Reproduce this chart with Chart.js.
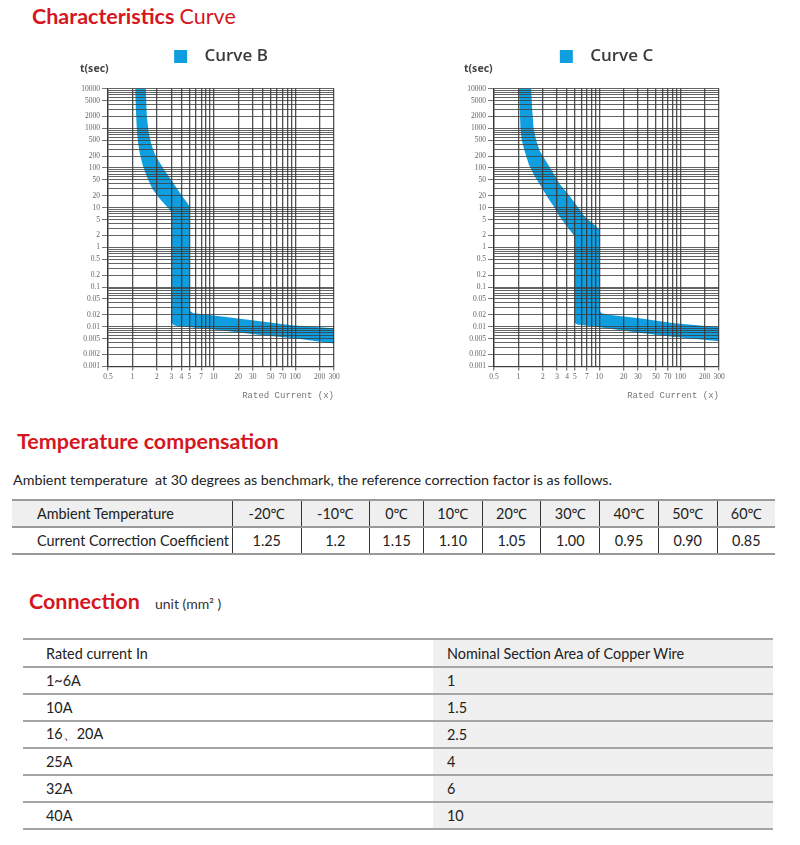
<!DOCTYPE html>
<html>
<head>
<meta charset="utf-8">
<script src="https://cdn.jsdelivr.net/npm/chart.js@4.4.0/dist/chart.umd.min.js"></script>
<style>
  body { margin: 0; background: #fff; font-family: Lato, "Noto Sans", sans-serif; color: #222; }
  #page { position: relative; width: 800px; height: 845px; overflow: hidden; }
  .head { position: absolute; white-space: nowrap; color: #d6161e; font-weight: bold; font-size: 21.5px; line-height: 26px; }
  .head span { font-weight: normal; }
  .note { position: absolute; white-space: nowrap; font-size: 14.3px; line-height: 18px; color: #222; }
  canvas { position: absolute; }
  table { position: absolute; border-collapse: collapse; font-size: 14.4px; color: #222; }
  #temp { left: 12px; top: 499px; width: 763px; border-top: 2px solid #9a9a9a; border-bottom: 2px solid #9a9a9a; }
  #temp td { height: 25px; padding: 0; text-align: center; border-left: 1px solid #333; }
  #temp td.first { text-align: left; padding-left: 25px; border-left: none; width: 195px; }
  #temp tr.hd { background: #efefef; }
  #temp tr.hd td { border-bottom: 2px solid #9a9a9a; }
  #conn { left: 23px; top: 638px; width: 750px; }
  #conn td { height: 25px; padding: 0; border-top: 2px solid #a5a5a5; }
  #conn tr:last-child td { border-bottom: 2px solid #a5a5a5; }
  #conn td.a { width: 387px; padding-left: 23px; }
  #conn td.b { padding-left: 14px; background: #f0f0f0; }
</style>
</head>
<body>
<div id="page">
  <div class="head" style="left:32px;top:3px;">Characteristics <span>Curve</span></div>

  <canvas id="chartB" width="300" height="380" style="left:60px;top:30px;"></canvas>
  <canvas id="chartC" width="300" height="380" style="left:444px;top:30px;"></canvas>

  <div class="head" style="left:17px;top:428px;">Temperature compensation</div>
  <div class="note" style="left:13px;top:471px;">Ambient temperature&nbsp; at 30 degrees as benchmark, the reference correction factor is as follows.</div>
  <table id="temp"></table>

  <div class="head" style="left:29px;top:588px;">Connection <span style="font-size:14px;color:#333;margin-left:10px;">unit (mm² )</span></div>
  <table id="conn"></table>
</div>

<script>
// tick labels and grid lines
const yLabelValues = [10000, 5000, 2000, 1000, 500, 200, 100, 50, 20, 10, 5, 2, 1, 0.5, 0.2, 0.1, 0.05, 0.02, 0.01, 0.005, 0.002, 0.001];
const xLabelValues = [0.5, 1, 2, 3, 4, 5, 7, 10, 20, 30, 50, 70, 100, 200, 300];
const xGridValues = [0.5, 1, 2, 3, 4, 5, 6, 7, 8, 9, 10, 20, 30, 40, 50, 60, 70, 80, 90, 100, 200, 300];

// Curve B: fast side (min) and slow side (max) of the trip band, {x: I/In, y: seconds}
const curveBMin = [
  {x: 1.08, y: 10000}, {x: 1.10, y: 3000}, {x: 1.13, y: 1000}, {x: 1.16, y: 500}, {x: 1.22, y: 250},
  {x: 1.33, y: 120}, {x: 1.5, y: 60}, {x: 1.75, y: 30}, {x: 2.1, y: 18}, {x: 2.5, y: 12},
  {x: 2.85, y: 9}, {x: 3.0, y: 7.5}, {x: 3.0, y: 0.015}, {x: 3.05, y: 0.0125}, {x: 3.2, y: 0.011},
  {x: 3.5, y: 0.0104}, {x: 10, y: 0.0085}, {x: 37, y: 0.0062}, {x: 96, y: 0.0051}, {x: 300, y: 0.0038}
];
const curveBMax = [
  {x: 1.46, y: 10000}, {x: 1.5, y: 2000}, {x: 1.58, y: 800}, {x: 1.7, y: 400}, {x: 1.89, y: 220},
  {x: 2.1, y: 150}, {x: 2.45, y: 90}, {x: 3.1, y: 45}, {x: 4.04, y: 20}, {x: 4.6, y: 14},
  {x: 5.0, y: 11}, {x: 5.0, y: 0.03}, {x: 5.1, y: 0.025}, {x: 5.6, y: 0.022}, {x: 10, y: 0.0193},
  {x: 37, y: 0.0137}, {x: 96, y: 0.0108}, {x: 300, y: 0.0092}
];

// Curve C
const curveCMin = [
  {x: 1.02, y: 10000}, {x: 1.04, y: 3000}, {x: 1.06, y: 1000}, {x: 1.1, y: 500}, {x: 1.19, y: 270},
  {x: 1.35, y: 120}, {x: 1.6, y: 60}, {x: 1.85, y: 38}, {x: 2.3, y: 18}, {x: 2.8, y: 10},
  {x: 3.22, y: 6}, {x: 4.0, y: 3.3}, {x: 4.6, y: 2.3}, {x: 4.93, y: 1.9}, {x: 4.93, y: 0.015},
  {x: 5.0, y: 0.0125}, {x: 5.3, y: 0.0113}, {x: 10, y: 0.0097}, {x: 31, y: 0.007}, {x: 80, y: 0.0056},
  {x: 300, y: 0.0043}
];
const curveCMax = [
  {x: 1.44, y: 10000}, {x: 1.48, y: 3000}, {x: 1.54, y: 1000}, {x: 1.66, y: 500}, {x: 1.83, y: 270},
  {x: 2.1, y: 170}, {x: 2.55, y: 90}, {x: 3.22, y: 40}, {x: 4.27, y: 20}, {x: 5.5, y: 10},
  {x: 6.55, y: 6}, {x: 8.5, y: 3.8}, {x: 10, y: 2.8}, {x: 10, y: 0.026}, {x: 10.6, y: 0.022},
  {x: 13, y: 0.02}, {x: 31, y: 0.0164}, {x: 80, y: 0.0124}, {x: 300, y: 0.0097}
];

// tables
const ambientTemps = ["-20℃", "-10℃", "0℃", "10℃", "20℃", "30℃", "40℃", "50℃", "60℃"];
const correctionCoeffs = ["1.25", "1.2", "1.15", "1.10", "1.05", "1.00", "0.95", "0.90", "0.85"];
const ratedCurrents = ["1~6A", "10A", "16、20A", "25A", "32A", "40A"];
const wireSections = ["1", "1.5", "2.5", "4", "6", "10"];

const BLUE = "#0f9fe0";
const GRID_X = "rgba(50,50,50,0.85)";
const GRID_Y = "rgba(60,60,60,0.8)";

function yGridValues() {
  const out = [];
  for (let d = -3; d <= 4; d++) {
    for (let k = 1; k < 10; k++) {
      const v = Number((k * Math.pow(10, d)).toPrecision(1));
      if (v >= 0.001 && v <= 10000) out.push(v);
    }
  }
  return out;
}

function makeChart(id, label, minPts, maxPts, yWidth, padRight) {
  const band = minPts.concat(maxPts.slice().reverse());
  return new Chart(document.getElementById(id), {
    type: "line",
    data: {
      datasets: [{
        label: label,
        data: band,
        fill: "shape",
        backgroundColor: BLUE,
        borderColor: BLUE,
        borderWidth: 0,
        pointRadius: 0,
        tension: 0
      }]
    },
    options: {
      responsive: false,
      animation: false,
      layout: { padding: { left: 20, right: padRight, top: 8, bottom: 8.6 } },
      plugins: {
        legend: {
          fullSize: false,
          labels: {
            boxWidth: 13, boxHeight: 13, padding: 10, color: "#3a3a3a",
            font: { family: "Open Sans", size: 17, weight: "600" },
            generateLabels: chart => Chart.defaults.plugins.legend.labels.generateLabels(chart)
              .map(item => Object.assign(item, { text: "  " + item.text }))
          }
        },
        // sits under the legend, pulled up a little so it lines up with the legend gap
        title: {
          display: true, text: "t(sec)", align: "start", weight: 500, color: "#444",
          font: { family: "Noto Sans", size: 10.5, weight: "bold" },
          padding: { top: -12, bottom: 13 }
        },
        tooltip: { enabled: false }
      },
      scales: {
        x: {
          type: "logarithmic", min: 0.5, max: 300,
          afterBuildTicks: s => { s.ticks = xGridValues.map(v => ({ value: v })); },
          ticks: {
            autoSkip: false, maxRotation: 0, padding: 2, color: "#666",
            font: { family: "Liberation Serif", size: 7.5 },
            callback: v => xLabelValues.includes(v) ? String(v) : ""
          },
          grid: {
            z: 1, color: GRID_X, lineWidth: 1.3, tickLength: 4,
            tickColor: c => xLabelValues.includes(c.tick.value) ? "#777" : "rgba(0,0,0,0)"
          },
          border: { z: 1, color: GRID_X, width: 1.3 },
          title: {
            display: true, text: "Rated Current (x)", align: "end", color: "#777",
            font: { family: "Liberation Mono", size: 9 },
            padding: { top: 7.2, bottom: 0 }
          }
        },
        y: {
          type: "logarithmic", min: 0.001, max: 10000,
          afterBuildTicks: s => { s.ticks = yGridValues().map(v => ({ value: v })); },
          afterFit: s => { s.width = yWidth; },
          ticks: {
            autoSkip: false, padding: 2, color: "#666",
            font: { family: "Liberation Serif", size: 7.5 },
            callback: v => yLabelValues.includes(v) ? String(v) : ""
          },
          grid: {
            z: 1, color: GRID_Y, lineWidth: 1, tickLength: 6,
            tickColor: c => yLabelValues.includes(c.tick.value) ? "#777" : "rgba(0,0,0,0)"
          },
          border: { z: 1, color: GRID_X, width: 1.3 }
        }
      }
    }
  });
}

function buildTables() {
  let html = '<tr class="hd"><td class="first">Ambient Temperature</td>';
  ambientTemps.forEach(t => { html += "<td>" + t + "</td>"; });
  html += '</tr><tr><td class="first">Current Correction Coefficient</td>';
  correctionCoeffs.forEach(c => { html += "<td>" + c + "</td>"; });
  html += "</tr>";
  document.getElementById("temp").innerHTML = html;

  let rows = '<tr><td class="a" style="height:26px">Rated current In</td><td class="b">Nominal Section Area of Copper Wire</td></tr>';
  ratedCurrents.forEach((r, i) => {
    rows += '<tr><td class="a">' + r + '</td><td class="b">' + wireSections[i] + "</td></tr>";
  });
  document.getElementById("conn").innerHTML = rows;
}

buildTables();
makeChart("chartB", "Curve B", curveBMin, curveBMax, 28, 26);
makeChart("chartC", "Curve C", curveCMin, curveCMax, 30, 25);
</script>
</body>
</html>
